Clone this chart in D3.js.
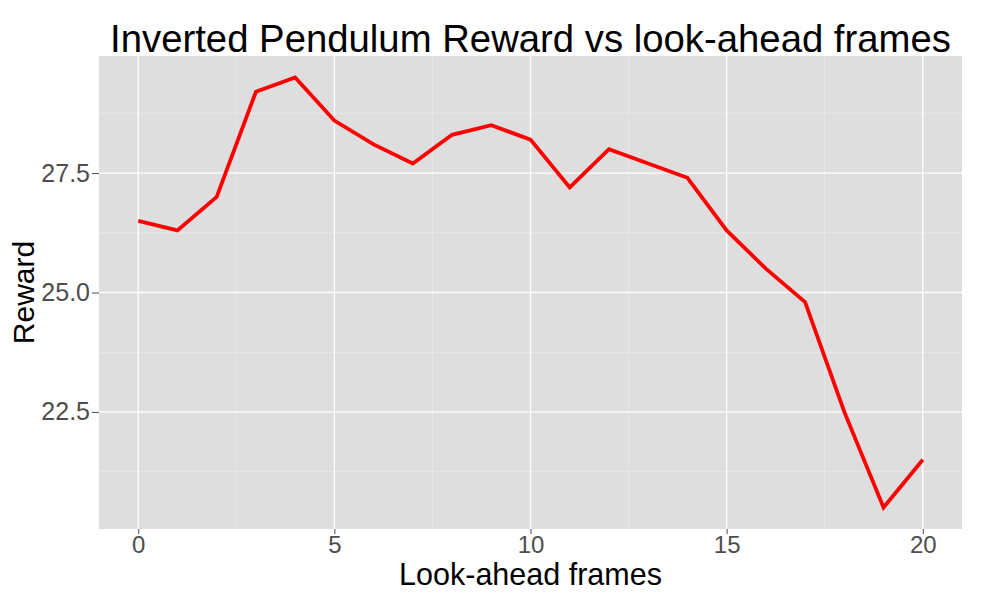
<!DOCTYPE html>
<html><head><meta charset="utf-8">
<script src="https://cdn.jsdelivr.net/npm/d3@7"></script>
<style>body{margin:0;background:#fff}svg{display:block}text{font-family:"Liberation Sans",Arial,Helvetica,sans-serif}</style>
</head><body>
<script>
const frames = [0,1,2,3,4,5,6,7,8,9,10,11,12,13,14,15,16,17,18,19,20];
const reward = [26.5,26.3,27.0,29.2,29.5,28.6,28.1,27.7,28.3,28.5,28.2,27.2,28.0,27.7,27.4,26.3,25.5,24.8,22.5,20.5,21.5];
const xTicks = [0,5,10,15,20];
const xMinor = [2.5,7.5,12.5,17.5];
const yTicks = [22.5,25.0,27.5];
const yMinor = [21.25,23.75,26.25,28.75];
const title = "Inverted Pendulum Reward vs look-ahead frames";
const xTitle = "Look-ahead frames";
const yTitle = "Reward";

const W = 981, H = 597;
const P = {left: 99, right: 962, top: 56, bottom: 529};
const svg = d3.select("body").append("svg").attr("width", W).attr("height", H);

const x = d3.scaleLinear().domain([-1, 21]).range([P.left, P.right]);
const y = d3.scaleLinear().domain([20.05, 29.95]).range([P.bottom, P.top]);

svg.append("rect").attr("x", P.left).attr("y", P.top).attr("width", P.right - P.left).attr("height", P.bottom - P.top).attr("fill", "#dedede");

const g = svg.append("g");
g.selectAll(".ymin").data(yMinor).join("line").attr("x1", P.left).attr("x2", P.right).attr("y1", d => y(d)).attr("y2", d => y(d)).attr("stroke", "#ebebeb").attr("stroke-width", 0.8);
g.selectAll(".xmin").data(xMinor).join("line").attr("y1", P.top).attr("y2", P.bottom).attr("x1", d => x(d)).attr("x2", d => x(d)).attr("stroke", "#ebebeb").attr("stroke-width", 0.8);
g.selectAll(".ymaj").data(yTicks).join("line").attr("x1", P.left).attr("x2", P.right).attr("y1", d => y(d)).attr("y2", d => y(d)).attr("stroke", "#ffffff").attr("stroke-width", 1.3);
g.selectAll(".xmaj").data(xTicks).join("line").attr("y1", P.top).attr("y2", P.bottom).attr("x1", d => x(d)).attr("x2", d => x(d)).attr("stroke", "#ffffff").attr("stroke-width", 1.3);

const xAxis = d3.axisBottom(x).tickValues(xTicks).tickFormat(d3.format("d")).tickSize(5).tickPadding(2);
const ax = svg.append("g").attr("transform", `translate(0,${P.bottom})`).call(xAxis);
ax.select(".domain").remove();
ax.selectAll(".tick line").attr("stroke", "#4d4d4d").attr("stroke-width", 1);
ax.selectAll(".tick text").attr("fill", "#4d4d4d").attr("font-size", 24).attr("font-family", "Liberation Sans, Arial, sans-serif");

const yAxis = d3.axisLeft(y).tickValues(yTicks).tickFormat(d3.format(".1f")).tickSize(7).tickPadding(2);
const ay = svg.append("g").attr("transform", `translate(${P.left},0)`).call(yAxis);
ay.select(".domain").remove();
ay.selectAll(".tick line").attr("stroke", "#4d4d4d").attr("stroke-width", 1);
ay.selectAll(".tick text").attr("fill", "#4d4d4d").attr("font-size", 25).attr("font-family", "Liberation Sans, Arial, sans-serif");

const line = d3.line().x((d, i) => x(frames[i])).y(d => y(d));
svg.append("path").datum(reward).attr("d", line).attr("fill", "none").attr("stroke", "#ff0000").attr("stroke-width", 3.8).attr("stroke-linejoin", "miter");

svg.append("text").attr("x", (P.left + P.right) / 2).attr("y", 52).attr("text-anchor", "middle").attr("font-size", 38.3).attr("fill", "#000").text(title);
svg.append("text").attr("x", (P.left + P.right) / 2).attr("y", 585).attr("text-anchor", "middle").attr("font-size", 30.5).attr("fill", "#000").text(xTitle);
svg.append("text").attr("transform", `translate(34,${(P.top + P.bottom) / 2}) rotate(-90)`).attr("text-anchor", "middle").attr("font-size", 30).attr("fill", "#000").text(yTitle);
</script>
</body></html>
